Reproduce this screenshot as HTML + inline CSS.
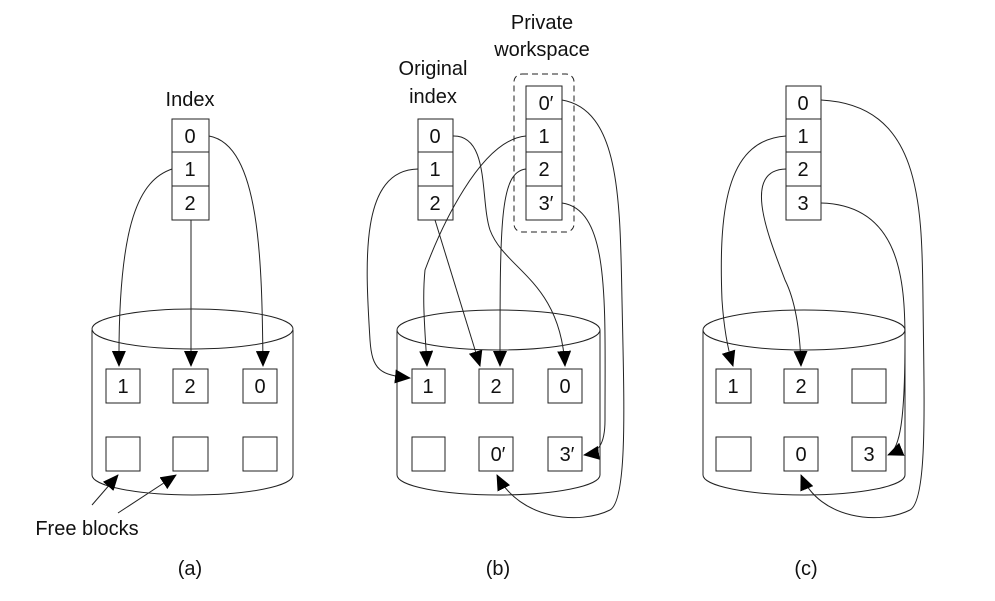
<!DOCTYPE html>
<html><head><style>body{margin:0;background:#fff}svg{display:block}text{font-family:"Liberation Sans",sans-serif;font-size:20px;fill:#111}</style></head><body>
<svg width="995" height="601" viewBox="0 0 995 601" xmlns="http://www.w3.org/2000/svg">
<defs><marker id="a" markerWidth="16" markerHeight="14" refX="15" refY="7" orient="auto" markerUnits="userSpaceOnUse"><path d="M0,0 L16,7 L0,14z" fill="#000"/></marker></defs>
<g fill="none" stroke="#222" stroke-width="1">
<path d="M92,330 L92,475 A100.5,20 0 0 0 293,475 L293,330"/><ellipse cx="192.5" cy="329" rx="100.5" ry="20"/>
<path d="M397,330 L397,475 A101.5,20 0 0 0 600,475 L600,330"/><ellipse cx="498.5" cy="330" rx="101.5" ry="20"/>
<path d="M703,330 L703,475 A101,20 0 0 0 905,475 L905,330"/><ellipse cx="804" cy="330" rx="101" ry="20"/>
<rect x="172" y="119" width="37" height="101"/><path d="M172,152H209M172,186H209"/>
<rect x="418" y="119" width="35" height="101"/><path d="M418,152H453M418,186H453"/>
<rect x="526" y="86" width="36" height="134"/><path d="M526,119H562M526,152H562M526,186H562"/>
<rect x="786" y="86" width="35" height="134"/><path d="M786,119H821M786,152H821M786,186H821"/>
<rect x="514" y="74" width="60" height="158" rx="8" stroke-dasharray="6,4"/>
<rect x="106" y="369" width="34" height="34"/><rect x="173" y="369" width="35" height="34"/><rect x="243" y="369" width="34" height="34"/>
<rect x="106" y="437" width="34" height="34"/><rect x="173" y="437" width="35" height="34"/><rect x="243" y="437" width="34" height="34"/>
<rect x="412" y="369" width="33" height="34"/><rect x="479" y="369" width="34" height="34"/><rect x="548" y="369" width="34" height="34"/>
<rect x="412" y="437" width="33" height="34"/><rect x="479" y="437" width="34" height="34"/><rect x="548" y="437" width="34" height="34"/>
<rect x="716" y="369" width="35" height="34"/><rect x="784" y="369" width="34" height="34"/><rect x="852" y="369" width="34" height="34"/>
<rect x="716" y="437" width="35" height="34"/><rect x="784" y="437" width="34" height="34"/><rect x="852" y="437" width="34" height="34"/>
</g>
<g fill="none" stroke="#222" stroke-width="1" marker-end="url(#a)">
<path d="M172,169 C140,180 118,220 119,366"/>
<path d="M191,220 L191,366"/>
<path d="M209,136 C260,145 262,260 263,366"/>
<path d="M92,505 L118,475"/><path d="M118,513 L176,475"/>
<path d="M418,169 C360,170 365,260 370,340 C372,370 380,375 410,378"/>
<path d="M435,220 L480,366"/>
<path d="M453,136 C490,135 480,200 490,230 C505,270 560,280 565,366"/>
<path d="M526,136 C480,140 440,230 425,270 C422,300 425,330 427,366"/>
<path d="M526,169 C500,172 500,220 500,366"/>
<path d="M562,203 C610,210 605,300 605,420 C605,445 598,453 584,455"/>
<path d="M562,100 C620,110 620,200 622,300 C624,400 628,500 610,510 C580,525 520,520 497,475"/>
<path d="M786,136 C730,140 718,200 722,300 C724,330 728,350 733,366"/>
<path d="M786,169 C740,170 770,240 785,280 C795,300 800,330 801,366"/>
<path d="M821,203 C900,205 905,280 905,340 C905,420 900,450 888,455"/>
<path d="M821,100 C920,105 922,200 923,300 C924,400 928,500 910,510 C880,525 820,520 801,475"/>
</g>
<g text-anchor="middle">
<text x="190" y="106">Index</text>
<text x="433" y="75">Original</text><text x="433" y="103">index</text>
<text x="542" y="29">Private</text><text x="542" y="56">workspace</text>
<text x="190" y="143">0</text><text x="190" y="176">1</text><text x="190" y="210">2</text>
<text x="435" y="143">0</text><text x="435" y="176">1</text><text x="435" y="210">2</text>
<text x="546" y="110">0′</text><text x="544" y="143">1</text><text x="544" y="176">2</text><text x="546" y="210">3′</text>
<text x="803" y="110">0</text><text x="803" y="143">1</text><text x="803" y="176">2</text><text x="803" y="210">3</text>
<text x="123" y="393">1</text><text x="190" y="393">2</text><text x="260" y="393">0</text>
<text x="428" y="393">1</text><text x="496" y="393">2</text><text x="565" y="393">0</text>
<text x="498" y="461">0′</text><text x="567" y="461">3′</text>
<text x="733" y="393">1</text><text x="801" y="393">2</text>
<text x="801" y="461">0</text><text x="869" y="461">3</text>
<text x="87" y="535">Free blocks</text>
<text x="190" y="575">(a)</text><text x="498" y="575">(b)</text><text x="806" y="575">(c)</text>
</g>
</svg>
</body></html>
